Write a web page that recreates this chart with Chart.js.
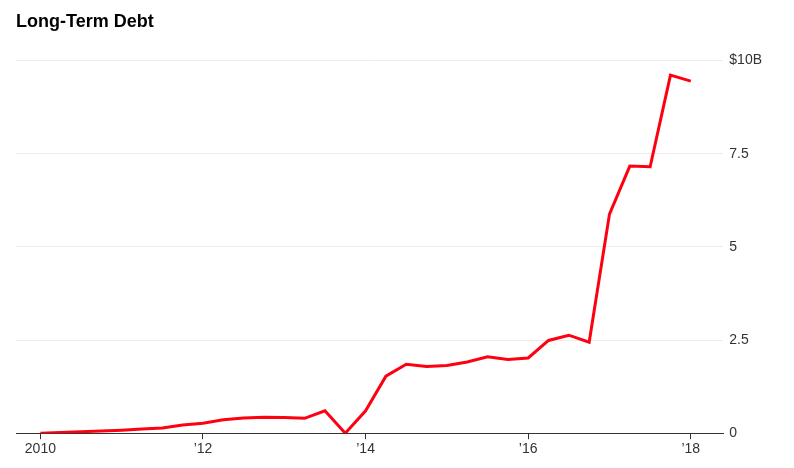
<!DOCTYPE html>
<html lang="en">
<head>
  <meta charset="UTF-8" />
  <title>Long-Term Debt</title>
  <script src="https://cdn.jsdelivr.net/npm/chart.js"></script>
  <style>
    body {
      margin: 0;
      background: #fff;
      font-family: 'Liberation Sans', Arial, sans-serif;
    }
    .wrap {
      width: 794px;
      height: 468px;
    }
  </style>
</head>
<body>
  <div class="wrap">
    <canvas id="debtChart" width="794" height="468"></canvas>
  </div>

  <script>
    // quarterly, starting 2010 Q1 (billions of dollars)
    const quarters = [
      2010, 2010.25, 2010.5, 2010.75,
      2011, 2011.25, 2011.5, 2011.75,
      2012, 2012.25, 2012.5, 2012.75,
      2013, 2013.25, 2013.5, 2013.75,
      2014, 2014.25, 2014.5, 2014.75,
      2015, 2015.25, 2015.5, 2015.75,
      2016, 2016.25, 2016.5, 2016.75,
      2017, 2017.25, 2017.5, 2017.75,
      2018
    ];
    const debt = [
      0.0, 0.02, 0.04, 0.06,
      0.08, 0.11, 0.14, 0.22,
      0.27, 0.36, 0.41, 0.43,
      0.42, 0.40, 0.60, 0.0,
      0.60, 1.53, 1.85, 1.79,
      1.82, 1.91, 2.05, 1.98,
      2.02, 2.49, 2.63, 2.44,
      5.88, 7.17, 7.15, 9.61,
      9.45
    ];
    const xTicks = [2010, 2012, 2014, 2016, 2018];
    const yTicks = [0, 2.5, 5, 7.5, 10];

    const points = quarters.map((q, i) => ({ x: q, y: debt[i] }));

    const ctx = document.getElementById('debtChart').getContext('2d');
    new Chart(ctx, {
      type: 'line',
      data: {
        datasets: [{
          label: 'Long-Term Debt',
          data: points,
          borderColor: '#ff0010',
          borderWidth: 3,
          pointRadius: 0,
          tension: 0,
          fill: false
        }]
      },
      options: {
        responsive: false,
        animation: false,
        layout: { padding: { left: 16, right: 26, top: 0, bottom: 8 } },
        plugins: {
          legend: { display: false },
          tooltip: { enabled: false },
          title: {
            display: true,
            text: 'Long-Term Debt',
            align: 'start',
            color: '#000',
            font: { family: 'Liberation Sans', size: 18, weight: 'bold' },
            padding: { top: 11, bottom: 28 }
          }
        },
        scales: {
          x: {
            type: 'linear',
            min: 2009.7,
            max: 2018.4,
            afterBuildTicks: axis => {
              axis.ticks = xTicks.map(v => ({ value: v }));
            },
            ticks: {
              color: '#333',
              font: { family: 'Liberation Sans', size: 14 },
              padding: 2,
              maxRotation: 0,
              callback: v => v === 2010 ? '2010' : '\u2019' + String(v).slice(2)
            },
            grid: {
              drawOnChartArea: false,
              drawTicks: true,
              tickLength: 6,
              color: '#333'
            },
            border: { display: true, color: '#333', width: 1 }
          },
          y: {
            position: 'right',
            min: 0,
            max: 10,
            afterBuildTicks: axis => {
              axis.ticks = yTicks.map(v => ({ value: v }));
            },
            ticks: {
              color: '#333',
              font: { family: 'Liberation Sans', size: 14 },
              padding: 6,
              callback: v => v === 10 ? '$10B' : String(v)
            },
            grid: {
              color: '#ececec',
              drawTicks: false
            },
            border: { display: false }
          }
        }
      }
    });
  </script>
</body>
</html>
